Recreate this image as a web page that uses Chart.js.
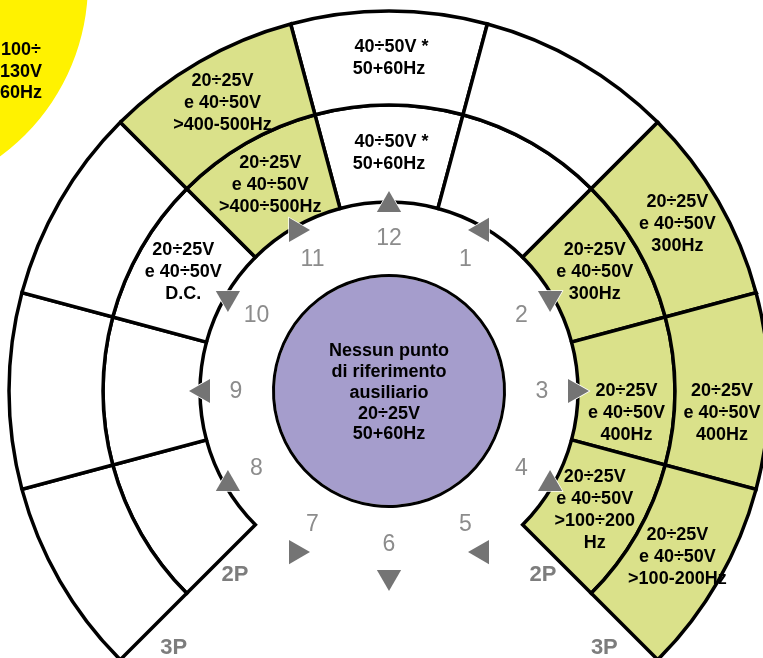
<!DOCTYPE html>
<html>
<head>
<meta charset="utf-8">
<script src="https://cdn.jsdelivr.net/npm/chart.js@4.4.1/dist/chart.umd.min.js"></script>
<style>
html, body { margin: 0; padding: 0; background: #fff; overflow: hidden; }
#wrap { position: relative; width: 763px; height: 658px; overflow: hidden; }
#yellow { position: absolute; left: -352px; top: -242px; }
#dial { position: absolute; left: 0; top: 0; }
</style>
</head>
<body>
<div id="wrap">
  <canvas id="yellow" width="450" height="450"></canvas>
  <canvas id="dial" width="763" height="658"></canvas>
</div>
<script>
// clock positions, starting at 12 and going clockwise
const hours = ['12', '1', '2', '3', '4', '5', '6', '7', '8', '9', '10', '11'];
const sectorSize = [1, 1, 1, 1, 1, 1, 1, 1, 1, 1, 1, 1];

// fill of each sector: 'w' white, 'g' green, '' = not drawn (gap at 5-7)
const fill3P = ['w', 'w', 'g', 'g', 'g', '', '', '', 'w', 'w', 'w', 'g'];
const fill2P = ['w', 'w', 'g', 'g', 'g', '', '', '', 'w', 'w', 'w', 'g'];

// texts in the outer (3P) and inner (2P) ring
const text3P = [
    ' 40÷50V *\n50+60Hz', '', '20÷25V\ne 40÷50V\n300Hz', '20÷25V\ne 40÷50V\n400Hz',
    '20÷25V\ne 40÷50V\n>100-200Hz', '', '', '', '', '', '', '20÷25V\ne 40÷50V\n>400-500Hz'
];
const text2P = [
    ' 40÷50V *\n50+60Hz', '', '20÷25V\ne 40÷50V\n300Hz', '20÷25V\ne 40÷50V\n400Hz',
    '20÷25V\ne 40÷50V\n>100÷200\nHz', '', '', '', '', '', '20÷25V\ne 40÷50V\nD.C.', '20÷25V\ne 40÷50V\n>400÷500Hz'
];
const ringNames = ['3P', '2P'];
const centerText = ['Nessun punto', 'di riferimento', 'ausiliario', '20÷25V', '50+60Hz'];
const yellowText = ['100÷', '130V', '60Hz'];

const GREEN = '#dae18a';
const PURPLE = '#a59dcc';
const YELLOW = '#fff200';
const FONT = '"Liberation Sans", Arial, sans-serif';

function fillColor(f) {
    if (f === 'g') return GREEN;
    if (f === 'w') return '#ffffff';
    return 'rgba(0,0,0,0)';
}

function multiline(ctx, lines, x, y, lh) {
    const top = y - (lines.length - 1) * lh / 2;
    lines.forEach((l, i) => ctx.fillText(l, x, top + i * lh));
}

// draws the texts, clock numbers and arrows on top of the rings
const dialText = {
    id: 'dialText',
    afterDatasetsDraw(chart, args, opts) {
        const ctx = chart.ctx;
        ctx.save();
        ctx.textAlign = 'center';
        ctx.textBaseline = 'middle';

        // sector texts
        ctx.font = 'bold 18px ' + FONT;
        ctx.fillStyle = '#000';
        [text3P, text2P].forEach((texts, d) => {
            chart.getDatasetMeta(d).data.forEach((el, i) => {
                if (!texts[i]) return;
                const p = el.getCenterPoint();
                multiline(ctx, texts[i].split('\n'), p.x, p.y + (opts.nudge[hours[i]] || 0), 22);
            });
        });

        // 3P / 2P next to the cut ends
        ctx.font = 'bold 22px ' + FONT;
        ctx.fillStyle = '#7d7d7d';
        ringNames.forEach((name, d) => {
            const data = chart.getDatasetMeta(d).data;
            const a = 5 * Math.PI / 180;
            [[data[7], data[7].endAngle - a], [data[5], data[5].startAngle + a]].forEach(([el, ang]) => {
                const r = (el.innerRadius + el.outerRadius) / 2 + 2;
                ctx.fillText(name, el.x + Math.cos(ang) * r, el.y + Math.sin(ang) * r);
            });
        });

        // center text
        const c = chart.getDatasetMeta(4).data[0];
        ctx.font = 'bold 18px ' + FONT;
        ctx.fillStyle = '#000';
        multiline(ctx, centerText, c.x, c.y + 2, 20.75);

        // clock numbers and arrows
        chart.getDatasetMeta(2).data.forEach((el, i) => {
            const p = el.getCenterPoint();
            ctx.font = '23px ' + FONT;
            ctx.fillStyle = '#8c8c8c';
            ctx.fillText(hours[i], p.x, p.y + 1);

            const mid = (el.startAngle + el.endAngle) / 2;
            const r = el.outerRadius - 3;
            const x = el.x + Math.cos(mid) * r;
            const y = el.y + Math.sin(mid) * r;
            const rot = mid + Math.PI / 2;
            const R = 14;
            ctx.beginPath();
            for (let k = 0; k < 3; k++) {
                const t = rot + k * 2 * Math.PI / 3;
                const px = x + Math.sin(t) * R;
                const py = y - Math.cos(t) * R;
                if (k === 0) ctx.moveTo(px, py); else ctx.lineTo(px, py);
            }
            ctx.closePath();
            ctx.fillStyle = '#747474';
            ctx.strokeStyle = '#ffffff';
            ctx.lineWidth = 1.5;
            ctx.stroke();
            ctx.fill();
        });
        ctx.restore();
    }
};

const ringBase = {
    data: sectorSize,
    borderColor: '#000',
    borderJoinStyle: 'miter'
};

new Chart(document.getElementById('dial'), {
    type: 'doughnut',
    data: {
        labels: hours,
        datasets: [
            Object.assign({}, ringBase, {
                weight: 94,
                backgroundColor: fill3P.map(fillColor),
                borderWidth: fill3P.map(f => f ? 3.5 : 0)
            }),
            Object.assign({}, ringBase, {
                weight: 97,
                backgroundColor: fill2P.map(fillColor),
                borderWidth: fill2P.map(f => f ? 3.5 : 0)
            }),
            { data: sectorSize, weight: 72, backgroundColor: 'rgba(0,0,0,0)', borderWidth: 0 },
            // black outline of the centre disc
            { data: [1], weight: 3, backgroundColor: '#000', borderWidth: 0 },
            { data: [1], weight: 114, backgroundColor: PURPLE, borderWidth: 0 }
        ]
    },
    options: {
        responsive: false,
        animation: false,
        events: [],
        devicePixelRatio: 1,
        rotation: -15,
        cutout: 0,
        radius: 380,
        clip: false,
        layout: { padding: { left: 15, right: 0, top: 124, bottom: 0 } },
        plugins: {
            legend: { display: false },
            tooltip: { enabled: false },
            dialText: { nudge: { '3': 22 } }
        }
    },
    plugins: [dialText]
});

// yellow disc in the top-left corner
const yellowLabel = {
    id: 'yellowLabel',
    afterDatasetsDraw(chart) {
        const el = chart.getDatasetMeta(0).data[0];
        const ctx = chart.ctx;
        ctx.save();
        ctx.font = 'bold 18px ' + FONT;
        ctx.fillStyle = '#000';
        ctx.textAlign = 'center';
        ctx.textBaseline = 'middle';
        multiline(ctx, yellowText, el.x + 148, el.y + 89, 21.5);
        ctx.restore();
    }
};

new Chart(document.getElementById('yellow'), {
    type: 'pie',
    data: {
        labels: ['V'],
        datasets: [{ data: [1], backgroundColor: YELLOW, borderWidth: 0 }]
    },
    options: {
        responsive: false,
        animation: false,
        events: [],
        devicePixelRatio: 1,
        radius: 215,
        plugins: { legend: { display: false }, tooltip: { enabled: false } }
    },
    plugins: [yellowLabel]
});
</script>
</body>
</html>
